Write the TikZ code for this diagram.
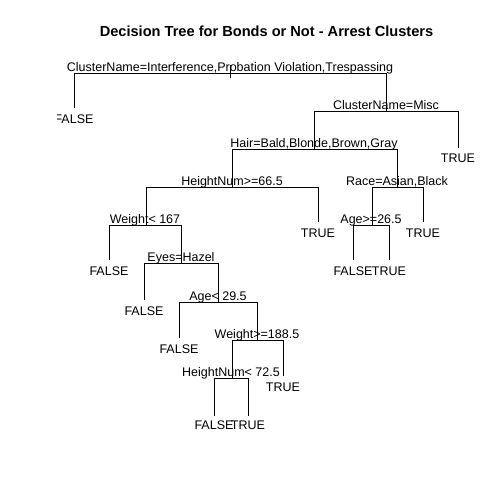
\documentclass[tikz,border=0pt]{standalone}
\usepackage{fontspec}
\setmainfont{Liberation Sans}
\begin{document}
\begin{tikzpicture}[x=1pt,y=-1pt,
  edge/.style={line width=0.9pt},
  lbl/.style={anchor=base, inner sep=0pt, font=\fontsize{12.5}{14}\selectfont},
  ttl/.style={anchor=base, inner sep=0pt, font=\fontsize{14.6}{16}\selectfont\bfseries}]
\useasboundingbox[fill=white] (0,0) rectangle (504,504);
\node[ttl] (title) at (266.5,36) {Decision Tree for Bonds or Not - Arrest Clusters};
% split nodes: centre, left end, right end of bar
\coordinate (s1top) at (230,65);  \coordinate (s1) at (230,73);  \coordinate (s1l) at (74,73);  \coordinate (s1r) at (386,73); \coordinate (s1bot) at (230,78);
\coordinate (s2) at (386,111); \coordinate (s2l) at (314,111); \coordinate (s2r) at (458,111);
\coordinate (s3) at (314,149); \coordinate (s3l) at (232,149); \coordinate (s3r) at (397,149);
\coordinate (s4) at (232,187); \coordinate (s4l) at (146,187); \coordinate (s4r) at (318,187);
\coordinate (s5) at (397,187); \coordinate (s5l) at (372,187); \coordinate (s5r) at (423,187);
\coordinate (s6) at (146,225); \coordinate (s6l) at (109,225); \coordinate (s6r) at (181,225);
\coordinate (s7) at (372,225); \coordinate (s7l) at (353,225); \coordinate (s7r) at (389,225);
\coordinate (s8) at (181,263); \coordinate (s8l) at (144,263); \coordinate (s8r) at (218,263);
\coordinate (s9) at (218,302); \coordinate (s9l) at (179,302); \coordinate (s9r) at (257,302);
\coordinate (s10) at (257,340); \coordinate (s10l) at (232,340); \coordinate (s10r) at (283,340);
\coordinate (s11) at (232,378); \coordinate (s11l) at (214,378); \coordinate (s11r) at (248,378);
% leaf ends
\coordinate (f1) at (74,108);
\coordinate (f2) at (458,148);
\coordinate (f3) at (318,222);
\coordinate (f4) at (423,222);
\coordinate (f5) at (109,260);
\coordinate (f6) at (353,260);
\coordinate (f7) at (389,260);
\coordinate (f8) at (144,300);
\coordinate (f9) at (179,338);
\coordinate (f10) at (283,376);
\coordinate (f11) at (214,416);
\coordinate (f12) at (248,416);
% bars and branches
\draw[edge] (s1top) -- (s1bot);
\draw[edge] (f1) -- (s1l) -- (s1r) -- (s2);
\draw[edge] (s3) -- (s2l) -- (s2r) -- (f2);
\draw[edge] (s4) -- (s3l) -- (s3r) -- (s5);
\draw[edge] (s6) -- (s4l) -- (s4r) -- (f3);
\draw[edge] (s7) -- (s5l) -- (s5r) -- (f4);
\draw[edge] (f5) -- (s6l) -- (s6r) -- (s8);
\draw[edge] (f6) -- (s7l) -- (s7r) -- (f7);
\draw[edge] (f8) -- (s8l) -- (s8r) -- (s9);
\draw[edge] (f9) -- (s9l) -- (s9r) -- (s10);
\draw[edge] (s11) -- (s10l) -- (s10r) -- (f10);
\draw[edge] (f11) -- (s11l) -- (s11r) -- (f12);
% split labels
\node[lbl] (t1) at (230,71.5) {ClusterName=Interference,Probation Violation,Trespassing};
\node[lbl] (t2) at (386,109.5) {ClusterName=Misc};
\node[lbl] (t3) at (314,147.5) {Hair=Bald,Blonde,Brown,Gray};
\node[lbl] (t4) at (232,185.5) {HeightNum>=66.5};
\node[lbl] (t5) at (397,185.5) {Race=Asian,Black};
\node[lbl] (t6) at (145,223.5) {Weight< 167};
\node[lbl] (t7) at (371,223.5) {Age>=26.5};
\node[lbl] (t8) at (181,261.5) {Eyes=Hazel};
\node[lbl] (t9) at (218,300.5) {Age< 29.5};
\node[lbl] (t10) at (257,338.5) {Weight>=188.5};
\node[lbl] (t11) at (231,376.5) {HeightNum< 72.5};
% leaf labels
\begin{scope}
\clip (57,0) rectangle (504,504);
\node[lbl] (l1) at (74,123.5) {FALSE};
\end{scope}
\node[lbl] (l2) at (458,162) {TRUE};
\node[lbl] (l3) at (318,237.5) {TRUE};
\node[lbl] (l4) at (423,237.5) {TRUE};
\node[lbl] (l5) at (109,275.5) {FALSE};
\node[lbl] (l6) at (353,275.5) {FALSE};
\node[lbl] (l7) at (389,275.5) {TRUE};
\node[lbl] (l8) at (144,315) {FALSE};
\node[lbl] (l9) at (179,353.5) {FALSE};
\node[lbl] (l10) at (283,391.5) {TRUE};
\node[lbl] (l11) at (214,429.5) {FALSE};
\node[lbl] (l12) at (248,429.5) {TRUE};
\end{tikzpicture}
\end{document}
